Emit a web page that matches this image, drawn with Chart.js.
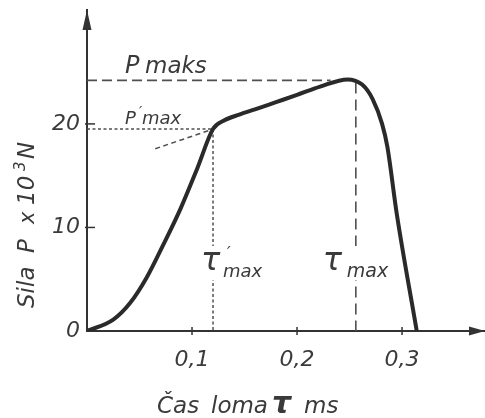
<!DOCTYPE html>
<html><head><meta charset="utf-8">
<script src="https://cdn.jsdelivr.net/npm/chart.js@4"></script>
<style>html,body{margin:0;padding:0;background:#fff}canvas{display:block}</style>
</head><body>
<canvas id="c" width="485" height="418"></canvas>
<script>
// ---- data (time in ms, force in 10^3 N) ----
const timeMs  = [0, 0.025, 0.041, 0.057, 0.072, 0.089, 0.105, 0.12, 0.13, 0.145, 0.16, 0.18, 0.2, 0.222, 0.248, 0.262, 0.272, 0.281, 0.286, 0.295, 0.314];
const forceKN = [0, 1.1, 2.7, 5.2, 8.2, 11.8, 15.7, 19.5, 20.3, 20.9, 21.4, 22.1, 22.8, 23.6, 24.3, 23.8, 22.4, 20.0, 17.8, 11.3, 0];

// characteristic values
const P_MAKS = 24.2;        // P maks
const P_MAX1 = 19.5;        // P'max
const TAU_MAX = 0.256;      // tau max
const TAU_MAX1 = 0.12;      // tau'max
const PMAKS_END = 0.232;    // end of P maks guide on curve
const TAU_MAX_TOP = 24.0;   // top of tau max guide on curve
const tangentX = [0.065, 0.12];
const tangentY = [17.6, 19.5];

// ticks
const xTicks = [0.1, 0.2, 0.3];
const xTickLabels = ['0,1', '0,2', '0,3'];
const yTicks = [0, 10, 20];
const yTickLabels = ['0', '10', '20'];

const INK = '#2a2a2a';
const TXT = '#3a3a3a';
const FONT = '"DejaVu Sans", sans-serif';

const pts = (xs, ys) => xs.map((x, i) => ({x: x, y: ys[i]}));

const guide = (data, dash, width) => ({
  data, borderColor: '#505050', borderWidth: width, borderDash: dash,
  pointRadius: 0, fill: false, tension: 0
});

const decor = {
  id: 'decor',
  afterDatasetsDraw(chart) {
    const ctx = chart.ctx, ca = chart.chartArea;
    const xs = chart.scales.x, ys = chart.scales.y;
    const X = v => xs.getPixelForValue(v), Y = v => ys.getPixelForValue(v);
    ctx.save();
    // tick marks
    ctx.strokeStyle = '#333'; ctx.lineWidth = 1.5;
    xTicks.forEach(v => { ctx.beginPath(); ctx.moveTo(X(v), Y(0) - 4); ctx.lineTo(X(v), Y(0) + 4); ctx.stroke(); });
    yTicks.filter(v => v > 0).forEach(v => { ctx.beginPath(); ctx.moveTo(X(0) - 2, Y(v)); ctx.lineTo(X(0) + 8, Y(v)); ctx.stroke(); });
    // arrow heads
    ctx.fillStyle = '#333';
    ctx.beginPath(); ctx.moveTo(ca.left, ca.top); ctx.lineTo(ca.left - 4.5, ca.top + 20); ctx.lineTo(ca.left + 4.5, ca.top + 20); ctx.closePath(); ctx.fill();
    ctx.beginPath(); ctx.moveTo(ca.right, ca.bottom); ctx.lineTo(ca.right - 16, ca.bottom - 4.5); ctx.lineTo(ca.right - 16, ca.bottom + 4.5); ctx.closePath(); ctx.fill();

    // white gaps for tau labels
    ctx.fillStyle = '#fff';
    ctx.fillRect(X(TAU_MAX1) - 4, 246, 8, 34);
    ctx.fillRect(X(TAU_MAX) - 4, 246, 8, 34);

    ctx.fillStyle = TXT;
    ctx.textBaseline = 'alphabetic';
    ctx.textAlign = 'left';
    const t = (s, x, y, size, weight) => { ctx.font = (weight || 'normal') + ' italic ' + size + 'px ' + FONT; ctx.fillText(s, x, y); return ctx.measureText(s).width; };

    // P maks
    t('P', X(0) + 38, Y(P_MAKS) - 7, 24);
    t('maks', X(0) + 58, Y(P_MAKS) - 7, 23);
    // P'max
    t('P', X(0) + 38, Y(P_MAX1) - 5, 18);
    t('\u2032', X(0) + 52, Y(P_MAX1) - 13, 14);
    t('max', X(0) + 55, Y(P_MAX1) - 5, 18);
    // tau'max
    t('\u03C4', X(TAU_MAX1) - 12, 270, 32);
    t('\u2032', X(TAU_MAX1) + 14, 258, 16);
    t('max', X(TAU_MAX1) + 10, 277, 18);
    // tau max
    t('\u03C4', X(TAU_MAX) - 33, 270, 32);
    t('max', X(TAU_MAX) - 9, 277, 19);

    // x title
    t('\u010Cas', 157, 413, 23);
    t('loma', 211, 413, 23);
    t('\u03C4', 272, 413, 30, 'bold');
    t('ms', 304, 413, 23);

    // y title (rotated)
    ctx.translate(34, 308);
    ctx.rotate(-Math.PI / 2);
    t('Sila', 0, 0, 23);
    t('P', 55, 0, 23);
    t('x', 84, 0, 21);
    t('10', 103, 0, 23);
    t('3', 137, -9, 15);
    t('N', 149, 0, 23);
    ctx.restore();
  }
};

new Chart(document.getElementById('c'), {
  type: 'line',
  data: {
    datasets: [
      { data: pts(timeMs, forceKN), borderColor: INK, borderWidth: 4, pointRadius: 0, fill: false,
        cubicInterpolationMode: 'monotone', borderCapStyle: 'round', borderJoinStyle: 'round' },
      guide(pts([0, PMAKS_END], [P_MAKS, P_MAKS]), [10, 5], 1.6),
      guide(pts([TAU_MAX, TAU_MAX], [TAU_MAX_TOP, 0]), [11, 6], 1.6),
      guide(pts([0, TAU_MAX1], [P_MAX1, P_MAX1]), [3, 2.5], 1.5),
      guide(pts([TAU_MAX1, TAU_MAX1], [P_MAX1, 0]), [3, 2.5], 1.5),
      guide(pts(tangentX, tangentY), [5, 3.5], 1.5)
    ]
  },
  options: {
    responsive: false,
    animation: false,
    events: [],
    layout: { autoPadding: false, padding: { top: 10, left: 0, right: 0, bottom: 0 } },
    plugins: { legend: { display: false }, tooltip: { enabled: false } },
    scales: {
      x: {
        type: 'linear', min: 0, max: 0.379,
        afterBuildTicks: s => { s.ticks = xTicks.map(v => ({ value: v })); },
        afterFit: s => { s.height = 87; s.paddingLeft = 0; s.paddingRight = 0; s.paddingTop = 0; s.paddingBottom = 0; },
        grid: { display: false, drawTicks: false },
        border: { display: true, color: '#333', width: 2 },
        ticks: {
          autoSkip: false, maxRotation: 0, padding: 16, color: TXT,
          font: { family: FONT, style: 'italic', size: 22 },
          callback: (v, i) => xTickLabels[xTicks.indexOf(v)]
        }
      },
      y: {
        type: 'linear', min: 0, max: 31.0,
        afterBuildTicks: s => { s.ticks = yTicks.map(v => ({ value: v })); },
        afterFit: s => { s.width = 87; s.paddingLeft = 0; s.paddingRight = 0; s.paddingTop = 0; s.paddingBottom = 0; },
        grid: { display: false, drawTicks: false },
        border: { display: true, color: '#333', width: 2 },
        ticks: {
          padding: 7, color: TXT,
          font: { family: FONT, style: 'italic', size: 22 },
          callback: (v) => yTickLabels[yTicks.indexOf(v)]
        }
      }
    }
  },
  plugins: [decor]
});
</script>
</body></html>
